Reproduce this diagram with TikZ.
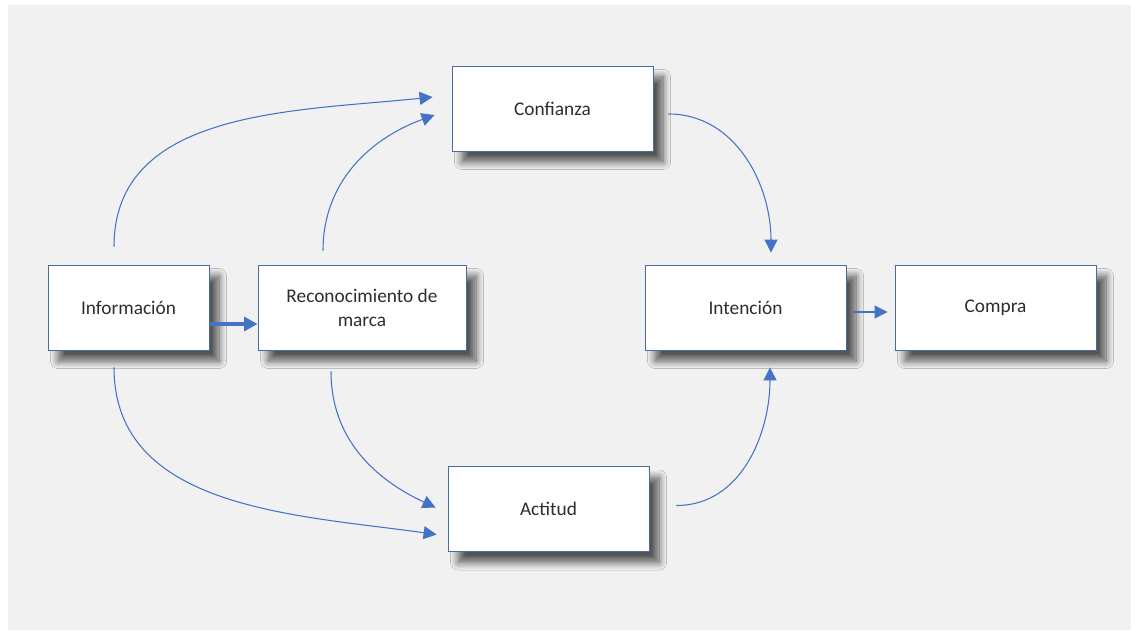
\documentclass[tikz,border=0pt]{standalone}
\usepackage{fontspec}
\setmainfont{Carlito}
\definecolor{bggray}{RGB}{241,241,241}
\definecolor{boxline}{RGB}{70,108,160}
\definecolor{flowblue}{RGB}{68,114,196}
\definecolor{txtgray}{RGB}{45,45,45}
\usetikzlibrary{arrows.meta,shadows.blur}

\begin{document}
\begin{tikzpicture}[
    box/.style={draw=boxline, line width=0.5pt, fill=white, minimum width=4.02cm, minimum height=1.7cm,
        align=center, text=txtgray, font=\fontsize{11}{13.5}\selectfont,
        blur shadow={shadow xshift=0.2cm, shadow yshift=-0.22cm, shadow blur radius=0.15cm,
            shadow blur steps=10, shadow opacity=65}},
    flow/.style={draw=flowblue, line width=0.6pt, -{Triangle[length=0.26cm,width=0.26cm]}},
    bigflow/.style={draw=flowblue, line width=2.6pt, -{Triangle[length=0.27cm,width=0.28cm]}}
]
    % Background
    \useasboundingbox (0,0) rectangle (22.7,12.6);
    \fill[bggray] (0.16,0) rectangle (22.62,12.5);

    % Boxes
    \node[box, minimum width=3.22cm] (info) at (2.57,6.45) {Información};
    \node[box, minimum width=4.16cm] (recon) at (7.24,6.45) {Reconocimiento de\\marca};
    \node[box] (conf) at (11.05,10.43) {Confianza};
    \node[box] (act) at (10.97,2.42) {Actitud};
    \node[box] (int) at (14.91,6.45) {Intención};
    \node[box] (compra) at (19.91,6.45) {Compra};

    % Straight arrows
    \draw[bigflow] ([yshift=-0.33cm]info.east) -- ([yshift=-0.33cm]recon.west);
    \draw[flow] ([shift={(0.14,-0.09)}]int.east) -- ([shift={(-0.14,-0.09)}]compra.west);

    % Curved arrows to Confianza
    \draw[flow] ([shift={(-0.29,0.36)}]info.north) to[out=90,in=186] ([shift={(-0.38,0.23)}]conf.west);
    \draw[flow] ([shift={(-0.78,0.28)}]recon.north) to[out=90,in=200] ([shift={(-0.34,-0.13)}]conf.west);

    % Curved arrows to Actitud
    \draw[flow] ([shift={(-0.29,-0.34)}]info.south) to[out=-90,in=172] ([shift={(-0.22,-0.51)}]act.west);
    \draw[flow] ([shift={(-0.62,-0.42)}]recon.south) to[out=-90,in=155] ([shift={(-0.24,0.03)}]act.west);

    % Curved arrows to Intención
    \draw[flow] ([shift={(0.30,-0.11)}]conf.east) to[out=0,in=90] ([shift={(0.51,0.24)}]int.north);
    \draw[flow] ([shift={(0.54,0.07)}]act.east) to[out=0,in=-90] ([shift={(0.49,-0.34)}]int.south);
\end{tikzpicture}
\end{document}
